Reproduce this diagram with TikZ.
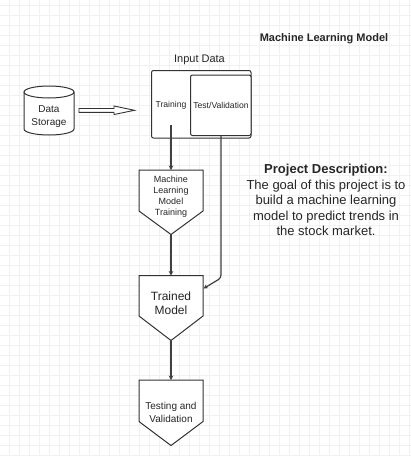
\documentclass[tikz,border=0pt]{standalone}
\usepackage{fontspec}
\setmainfont{Liberation Sans}
\usetikzlibrary{arrows.meta}
\begin{document}
\begin{tikzpicture}[x=1pt, y=-1pt,
  gridline/.style={gray!11, line width=0.4pt},
  shapeline/.style={black!80, line width=1pt, fill=white},
  conn/.style={black!75, line width=1.2pt, -{Stealth[length=4.5pt,width=4.5pt]}},
  txt/.style={text=black!85, align=center, inner sep=0pt}]
\useasboundingbox (0,0) rectangle (411,456);
\fill[white] (0,0) rectangle (411,456);
% background grid
\foreach \x in {9,19,...,409} \draw[gridline] (\x,0) -- (\x,456);
\foreach \y in {5,15,...,455} \draw[gridline] (0,\y) -- (411,\y);
% title
\node[txt, font=\bfseries\fontsize{11}{13}\selectfont] (title) at (324,39) {Machine Learning Model};
% data storage
\draw[shapeline] (24,92) -- (24,129) arc[start angle=180, end angle=0, x radius=25, y radius=6] -- (74,92);
\draw[shapeline] (49,92) ellipse[x radius=25, y radius=6];
\node[txt, font=\fontsize{10}{12.3}\selectfont] (store) at (49,116.5) {Data\\Storage};
\draw[shapeline, line width=0.9pt] (79,108.5) -- (114,108.5) -- (114,106) -- (134.5,110.3) -- (114,114.5) -- (114,112.3) -- (79,112.3) -- cycle;
% input data
\node[txt, font=\fontsize{11}{13}\selectfont] (input) at (199.5,60) {Input Data};
\draw[shapeline, rounded corners=2pt] (151.5,70.5) rectangle (251,138);
\draw[shapeline, rounded corners=2pt] (190.5,75) rectangle (251,135.5);
\node[txt, font=\fontsize{8.6}{10}\selectfont] (trn) at (171,105) {Training};
\node[txt, font=\fontsize{8.6}{10}\selectfont] (val) at (221,105) {Test/Validation};
\coordinate (trnfoot) at (171,125);
\coordinate (valfoot) at (221,135.5);
% pentagons
\draw[shapeline] (139,170) -- (203,170) -- (203,211) -- (171,234.5) -- (139,211) -- cycle;
\node[txt, font=\fontsize{9}{10.9}\selectfont] (mlt) at (171,196.5) {Machine\\Learning\\Model\\Training};
\coordinate (mlttop) at (171,170);
\coordinate (mlttip) at (171,234.5);
\draw[shapeline] (139,275.5) -- (203,275.5) -- (203,316) -- (171,340.5) -- (139,316) -- cycle;
\node[txt, font=\fontsize{12}{14.3}\selectfont] (tm) at (171,303) {Trained\\Model};
\coordinate (tmtop) at (171,275.5);
\coordinate (tmtip) at (171,340.5);
\coordinate (tmside) at (203.5,288.5);
\draw[shapeline] (139,380) -- (203,380) -- (203,421.5) -- (171,445.5) -- (139,421.5) -- cycle;
\node[txt, font=\fontsize{10}{12.7}\selectfont] (tv) at (171,412.5) {Testing and\\Validation};
\coordinate (tvtop) at (171,380);
% connectors
\draw[conn] (trnfoot) -- (mlttop);
\draw[conn] (mlttip) -- (tmtop);
\draw[conn] (tmtip) -- (tvtop);
\draw[conn, rounded corners=3pt] (valfoot) -- (221,278) -- (tmside);
% description
\node[txt, font=\fontsize{13}{15.5}\selectfont] (desc) at (326,200) {\textbf{Project Description:}\\The goal of this project is to\\build a machine learning\\model to predict trends in\\the stock market.};
\end{tikzpicture}
\end{document}
